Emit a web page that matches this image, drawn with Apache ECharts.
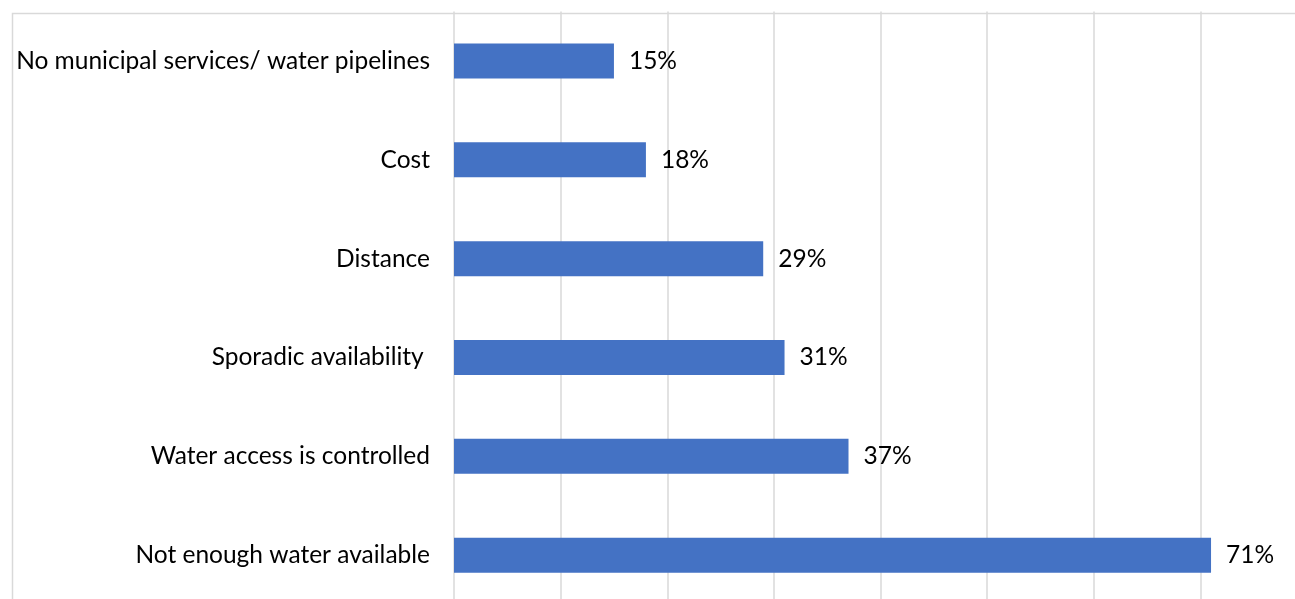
<!DOCTYPE html>
<html>
<head>
<meta charset="utf-8">
<title>Water access barriers</title>
<script src="https://cdn.jsdelivr.net/npm/echarts@6/dist/echarts.min.js"></script>
<style>
  html, body { margin: 0; padding: 0; background: #ffffff; }
  #chart { width: 1295px; height: 599px; }
</style>
</head>
<body>
<div id="chart"></div>
<script>
// Reasons reported for difficulty accessing water (top to bottom)
const categories = [
  'No municipal services/ water pipelines',
  'Cost',
  'Distance',
  'Sporadic availability ',
  'Water access is controlled',
  'Not enough water available'
];
// Share of respondents, percent
const values = [15, 18, 29, 31, 37, 71];

const FONT = 'Lato';

const chart = echarts.init(document.getElementById('chart'), null, { renderer: 'canvas' });

chart.setOption({
  animation: false,
  backgroundColor: '#ffffff',
  textStyle: { fontFamily: FONT },
  // outer frame of the chart area
  graphic: [{
    type: 'rect',
    left: 10,
    top: 11,
    shape: { width: 1400, height: 700 },
    style: { fill: 'none', stroke: '#d9d9d9', lineWidth: 1.5 },
    silent: true,
    z: 0
  }],
  // plot area runs past the right and bottom edges of the canvas
  grid: {
    left: 454,
    top: 11.6,
    width: 853,
    height: 593,
    containLabel: false,
    outerBoundsMode: 'none'
  },
  xAxis: {
    type: 'value',
    min: 0,
    max: 80,
    interval: 10,
    axisLine: { show: false },
    axisTick: { show: false },
    axisLabel: { show: false },
    splitLine: { show: true, lineStyle: { color: '#d9d9d9', width: 1.5 } }
  },
  yAxis: {
    type: 'category',
    inverse: true,
    data: categories,
    axisLine: { show: false },
    axisTick: { show: false },
    axisLabel: {
      margin: 24,
      color: '#000000',
      fontFamily: FONT,
      fontSize: 24.5
    }
  },
  series: [{
    type: 'bar',
    data: values,
    barWidth: 35,
    itemStyle: { color: '#4472C4' },
    label: {
      show: true,
      position: 'right',
      distance: 15,
      formatter: '{c}%',
      color: '#000000',
      fontFamily: FONT,
      fontSize: 24.5
    }
  }]
});
</script>
</body>
</html>
